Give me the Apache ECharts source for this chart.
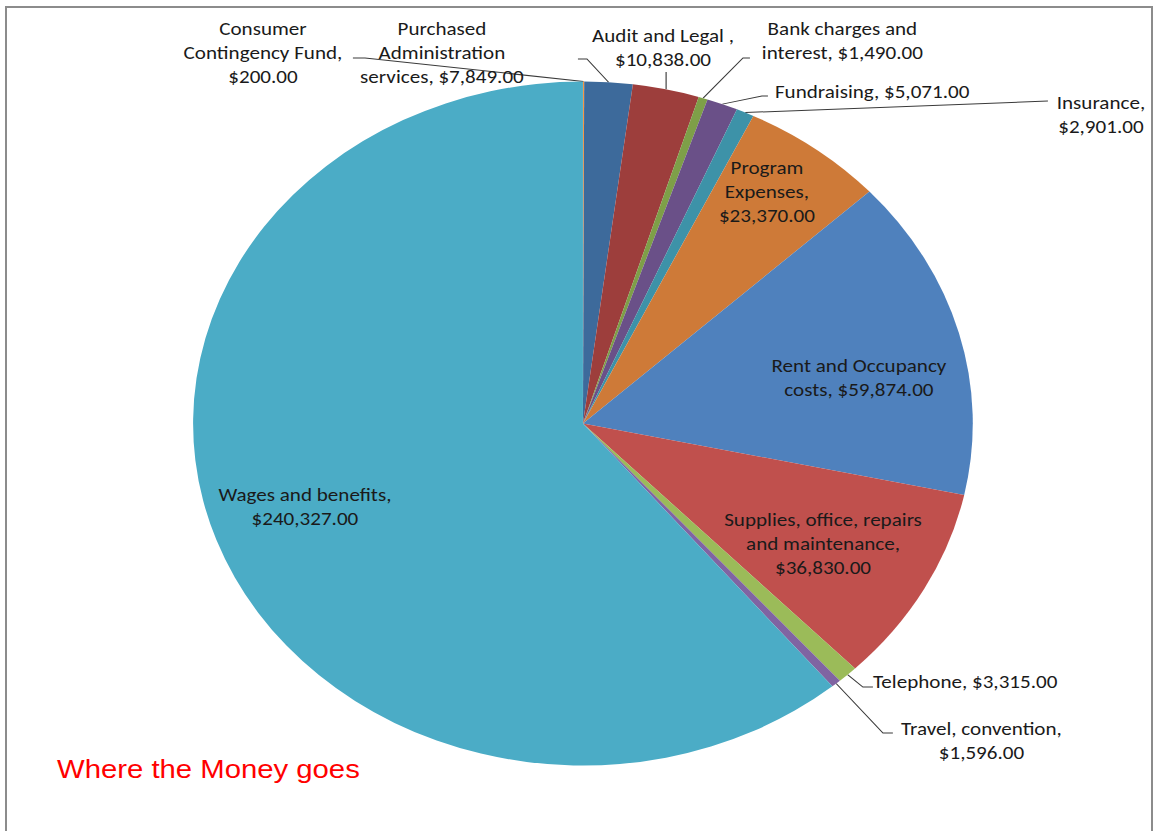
<!DOCTYPE html>
<html>
<head>
<meta charset="utf-8">
<script src="https://cdn.jsdelivr.net/npm/echarts@6/dist/echarts.min.js"></script>
<style>
  html, body { margin: 0; padding: 0; background: #fff; }
  #wrap { position: relative; width: 1157px; height: 831px; overflow: hidden; background: #fff; }
  #frame { position: absolute; left: 5px; top: 6px; width: 1148px; height: 840px;
           border: 2px solid #8c8c8c; box-sizing: border-box; }
  #chart { position: absolute; left: 0; top: 0; width: 1015px; height: 831px;
           transform: scaleX(1.1399); transform-origin: 0 0; }
</style>
</head>
<body>
<div id="wrap">
  <div id="frame"></div>
  <div id="chart"></div>
</div>
<script>
// ---- data ----
const categories = [
  'Consumer Contingency Fund',
  'Purchased Administration services',
  'Audit and Legal ',
  'Bank charges and interest',
  'Fundraising',
  'Insurance',
  'Program Expenses',
  'Rent and Occupancy costs',
  'Supplies, office, repairs and maintenance',
  'Telephone',
  'Travel, convention',
  'Wages and benefits'
];
const values = [200, 7849, 10838, 1490, 5071, 2901, 23370, 59874, 36830, 3315, 1596, 240327];
const colors = ['#F79646', '#3D6A9B', '#9D3E3C', '#7E9F48', '#6A5088', '#3D92A8',
                '#CE7A38', '#4F81BD', '#C0504D', '#9BBB59', '#8064A2', '#4BACC6'];
const chartTitle = 'Where the Money goes';

// ---- label wrapping (text layout only) ----
const labelTemplates = [
  'Consumer\nContingency Fund,\n{v}',
  'Purchased\nAdministration\nservices, {v}',
  'Audit and Legal ,\n{v}',
  'Bank charges and\ninterest, {v}',
  'Fundraising, {v}',
  'Insurance,\n{v}',
  'Program\nExpenses,\n{v}',
  'Rent and Occupancy\ncosts, {v}',
  'Supplies, office, repairs\nand maintenance,\n{v}',
  'Telephone, {v}',
  'Travel, convention,\n{v}',
  'Wages and benefits,\n{v}'
];

// ---- label placement (chart-space, before horizontal stretch) ----
const labelPlacement = [
  { x: 230.7, y: 52,  align: 'center', line: [[320.2, 58], [309.6, 58]] },
  { x: 387.7, y: 52,  align: 'center', line: [[514.9, 59], [507.0, 59]] },
  { x: 581.6, y: 47,  align: 'center', vline: 72 },
  { x: 739.0, y: 40,  align: 'center', line: [[651.8, 58], [657.9, 58]] },
  { x: 679.8, y: 91,  align: 'left',   line: [[668.4, 96], [673.7, 96]] },
  { x: 965.8, y: 114, align: 'center', line: [[919.3, 101]] },
  { x: 672.8, y: 191, align: 'center', inside: true },
  { x: 753.5, y: 377, align: 'center', inside: true },
  { x: 722.0, y: 543, align: 'center', inside: true },
  { x: 765.8, y: 681, align: 'left',   line: [[757.0, 687], [765.8, 687]] },
  { x: 861.0, y: 740, align: 'center', line: [[774.6, 733], [783.3, 733]] },
  { x: 267.5, y: 506, align: 'center', inside: true }
];

function money(v) {
  return '$' + v.toLocaleString('en-US', { minimumFractionDigits: 2, maximumFractionDigits: 2 });
}

const pieData = categories.map((name, i) => ({
  name: name,
  value: values[i],
  itemStyle: { color: colors[i] },
  label: { position: labelPlacement[i].inside ? 'inside' : 'outside' },
  labelLine: { show: !labelPlacement[i].inside }
}));

const chart = echarts.init(document.getElementById('chart'), null, { renderer: 'svg' });

chart.setOption({
  backgroundColor: 'transparent',
  animation: false,
  title: {
    text: chartTitle,
    left: 50,
    top: 756,
    padding: 0,
    textStyle: { color: '#FF0000', fontFamily: 'Liberation Sans, Arial, sans-serif',
                 fontSize: 25.7, fontWeight: 'normal' }
  },
  series: [{
    type: 'pie',
    center: [511.4, 423.5],
    radius: [0, 342],
    startAngle: 90,
    clockwise: true,
    avoidLabelOverlap: false,
    itemStyle: { borderWidth: 0 },
    emphasis: { disabled: true },
    label: {
      color: '#1a1a1a',
      fontFamily: 'Carlito, Calibri, Lato, sans-serif',
      fontSize: 18.5,
      lineHeight: 24,
      formatter: p => labelTemplates[p.dataIndex].replace('{v}', money(p.value))
    },
    labelLine: {
      length: 10,
      length2: 10,
      smooth: false,
      lineStyle: { color: '#3a3a3a', width: 1 }
    },
    labelLayout: function (params) {
      const cfg = labelPlacement[params.dataIndex];
      const out = { x: cfg.x, y: cfg.y, align: cfg.align, verticalAlign: 'middle' };
      const pts = params.labelLinePoints;
      if (!cfg.inside && pts && pts.length) {
        const p0 = pts[0];
        if (cfg.vline != null) {
          out.labelLinePoints = [p0, [p0[0], cfg.vline]];
        } else {
          out.labelLinePoints = [p0].concat(cfg.line);
        }
      }
      return out;
    },
    data: pieData
  }]
});
</script>
</body>
</html>
